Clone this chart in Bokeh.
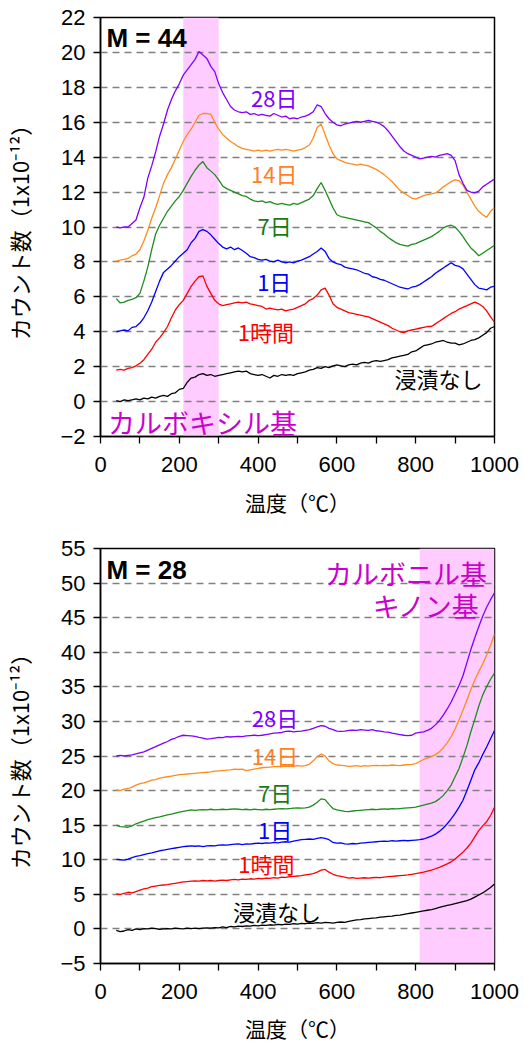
from bokeh.plotting import figure
from bokeh.models import Label, BoxAnnotation, FixedTicker, Range1d
from bokeh.layouts import column
from bokeh.embed import file_html
from bokeh.resources import INLINE

# temperature sampling points (°C)
TEMP = list(range(40, 1001, 10))

# ---------------- M = 44 (top panel) ----------------
M44_NONE = [0.05, 0.0, 0.1, 0.05, 0.1, 0.15, 0.1, 0.2, 0.15, 0.25,
            0.2, 0.3, 0.35, 0.3, 0.45, 0.5, 0.7, 0.75, 1.1, 1.35,
            1.4, 1.55, 1.6, 1.5, 1.55, 1.45, 1.5, 1.55, 1.6, 1.65,
            1.7, 1.75, 1.7, 1.75, 1.6, 1.55, 1.5, 1.55, 1.45, 1.35,
            1.5, 1.45, 1.55, 1.5, 1.55, 1.5, 1.6, 1.65, 1.7, 1.8,
            1.85, 1.95, 1.9, 2.0, 1.95, 2.05, 2.1, 2.05, 2.0, 2.1,
            2.15, 2.1, 2.2, 2.25, 2.2, 2.3, 2.35, 2.3, 2.35, 2.4,
            2.5, 2.55, 2.6, 2.65, 2.7, 2.85, 2.9, 3.05, 3.2, 3.25,
            3.3, 3.4, 3.45, 3.5, 3.4, 3.35, 3.35, 3.25, 3.3, 3.4,
            3.5, 3.55, 3.65, 3.8, 3.95, 4.2, 4.3]
M44_1H = [1.8, 1.85, 1.8, 1.9, 1.95, 2.05, 2.2, 2.4, 2.7, 3.0,
          3.4, 3.65, 3.95, 4.3, 4.8, 5.25, 5.55, 5.8, 6.2, 6.6,
          6.9, 7.15, 7.2, 6.6, 6.2, 5.8, 5.6, 5.5, 5.55, 5.6,
          5.65, 5.7, 5.65, 5.7, 5.6, 5.55, 5.5, 5.45, 5.3, 5.35,
          5.3, 5.25, 5.3, 5.2, 5.25, 5.3, 5.4, 5.5, 5.6, 5.8,
          5.9, 6.1, 6.4, 6.5, 6.1, 5.6, 5.4, 5.3, 5.2, 5.1,
          5.05, 5.0, 4.95, 4.9, 4.85, 4.75, 4.65, 4.55, 4.45, 4.35,
          4.2, 4.1, 4.0, 3.95, 4.05, 4.1, 4.15, 4.2, 4.25, 4.3,
          4.3, 4.45, 4.6, 4.75, 4.9, 5.05, 5.15, 5.3, 5.4, 5.5,
          5.6, 5.7, 5.6, 5.45, 5.2, 4.85, 4.55]
M44_1D = [4.0, 4.05, 4.1, 4.05, 4.25, 4.3, 4.5, 4.8, 5.2, 5.7,
          6.3, 6.9, 7.4, 7.6, 7.8, 8.05, 8.3, 8.5, 8.7, 9.1,
          9.35, 9.75, 9.85, 9.75, 9.55, 9.3, 9.05, 8.85, 8.75, 8.85,
          8.7, 8.8, 8.65, 8.5, 8.3, 8.25, 8.15, 8.1, 8.15, 8.05,
          8.0, 8.1, 8.0, 7.95, 8.0, 7.95, 8.05, 8.1, 8.2, 8.3,
          8.45, 8.6, 8.8, 8.6, 8.2, 8.0, 7.9, 7.85, 7.7, 7.65,
          7.6, 7.55, 7.45, 7.35, 7.3, 7.15, 7.1, 7.0, 6.95, 6.85,
          6.75, 6.65, 6.55, 6.5, 6.45, 6.55, 6.6, 6.7, 6.85, 7.0,
          7.15, 7.35, 7.5, 7.65, 7.8, 7.95, 7.8, 7.75, 7.6, 7.3,
          7.0, 6.7, 6.5, 6.45, 6.4, 6.55, 6.6]
M44_7D = [5.9, 5.65, 5.7, 5.8, 5.85, 5.95, 6.2, 6.9, 7.7, 8.7,
          9.6, 10.1, 10.5, 10.9, 11.2, 11.5, 11.75, 12.1, 12.5, 12.9,
          13.25, 13.55, 13.75, 13.4, 13.2, 13.0, 12.7, 12.35, 12.2, 12.1,
          12.0, 11.9, 11.8, 11.75, 11.6, 11.5, 11.45, 11.5, 11.4, 11.45,
          11.35, 11.3, 11.35, 11.3, 11.25, 11.35, 11.3, 11.4, 11.5, 11.6,
          11.8, 12.2, 12.55, 12.1, 11.6, 11.1, 10.7, 10.6, 10.55, 10.5,
          10.45, 10.4, 10.35, 10.3, 10.25, 10.1, 9.95, 9.75, 9.6, 9.4,
          9.25, 9.1, 9.0, 8.95, 8.9, 9.0, 9.05, 9.15, 9.25, 9.35,
          9.45, 9.6, 9.75, 9.95, 10.05, 10.1, 10.0, 9.75, 9.45, 9.1,
          8.8, 8.6, 8.35, 8.5, 8.65, 8.8, 8.95]
M44_14D = [8.05, 8.1, 8.15, 8.2, 8.35, 8.45, 8.7, 9.2, 9.8, 10.5,
           11.1, 11.8, 12.5, 13.0, 13.4, 13.9, 14.4, 14.9, 15.3, 15.6,
           16.0, 16.4, 16.5, 16.5, 16.45, 16.0, 15.6, 15.3, 15.1, 14.9,
           14.75, 14.6, 14.5, 14.45, 14.4, 14.35, 14.4, 14.35, 14.4, 14.35,
           14.4, 14.45, 14.4, 14.45, 14.4, 14.35, 14.4, 14.45, 14.55, 14.7,
           15.1, 15.7, 15.9, 15.3, 14.7, 14.2, 13.9, 13.8, 13.7, 13.65,
           13.6, 13.55, 13.6, 13.55, 13.5, 13.4, 13.3, 13.15, 13.0, 12.8,
           12.6, 12.35, 12.1, 11.95, 11.8, 11.65, 11.6, 11.7, 11.8, 11.85,
           11.9, 11.95, 12.1, 12.3, 12.45, 12.6, 12.7, 12.65, 12.4, 12.0,
           11.6, 11.2, 10.9, 10.7, 10.55, 10.9, 11.1]
M44_28D = [10.0, 9.95, 10.0, 10.0, 10.2, 10.4, 11.1, 11.7, 12.8, 13.5,
           14.3, 15.2, 15.9, 16.7, 17.3, 17.8, 18.2, 18.7, 19.0, 19.3,
           19.6, 20.05, 19.85, 19.65, 19.2, 18.9, 18.2, 17.7, 17.3, 16.9,
           16.7, 16.6, 16.55, 16.6, 16.45, 16.5, 16.4, 16.45, 16.4, 16.35,
           16.5, 16.4, 16.3, 16.35, 16.2, 16.25, 16.2, 16.3, 16.35, 16.45,
           16.6, 17.0, 16.9, 16.5, 16.2, 16.0, 15.85, 15.8, 15.9, 15.95,
           16.0, 16.05, 16.0, 16.05, 16.1, 16.05, 16.0, 15.9, 15.75, 15.5,
           15.2, 14.9, 14.6, 14.35, 14.2, 14.1, 14.0, 13.9, 13.95, 14.0,
           14.05, 14.0, 14.1, 14.15, 14.2, 14.1, 13.8, 13.0, 12.5, 12.1,
           12.0, 11.95, 12.05, 12.3, 12.45, 12.6, 12.75]

# ---------------- M = 28 (bottom panel) ----------------
M28_NONE = [-0.2, -0.4, -0.3, -0.1, -0.2, 0.0, -0.1, 0.05, 0.0, 0.1,
            0.05, -0.05, 0.0, 0.05, 0.0, 0.1, 0.05, 0.0, 0.1, 0.05,
            0.1, 0.05, 0.1, 0.15, 0.1, 0.2, 0.15, 0.3, 0.2, 0.35,
            0.3, 0.4, 0.35, 0.45, 0.4, 0.5, 0.45, 0.55, 0.5, 0.6,
            0.55, 0.65, 0.6, 0.7, 0.65, 0.75, 0.7, 0.8, 0.75, 0.85,
            0.8, 0.9, 0.85, 0.95, 0.9, 0.85, 0.95, 1.0, 0.95, 1.1,
            1.2, 1.3, 1.35, 1.45, 1.5, 1.55, 1.6, 1.7, 1.75, 1.8,
            1.85, 1.95, 2.0, 2.1, 2.2, 2.3, 2.4, 2.5, 2.6, 2.7,
            2.8, 2.95, 3.1, 3.25, 3.4, 3.5, 3.65, 3.8, 3.95, 4.1,
            4.3, 4.6, 4.9, 5.2, 5.6, 6.0, 6.5]
M28_1H = [5.05, 5.0, 5.15, 5.3, 5.2, 5.4, 5.6, 5.8, 5.9, 6.1,
          6.2, 6.3, 6.35, 6.4, 6.5, 6.6, 6.7, 6.8, 6.85, 6.9,
          6.95, 6.9, 7.0, 6.95, 7.0, 6.9, 7.0, 7.05, 7.0, 7.1,
          7.15, 7.1, 7.2, 7.15, 7.25, 7.2, 7.3, 7.25, 7.35, 7.3,
          7.4, 7.35, 7.5, 7.45, 7.55, 7.6, 7.65, 7.7, 7.8, 7.9,
          8.0, 8.2, 8.5, 8.6, 8.2, 7.9, 7.7, 7.6, 7.5, 7.35,
          7.4, 7.3, 7.35, 7.4, 7.35, 7.4, 7.45, 7.4, 7.5, 7.55,
          7.6, 7.65, 7.7, 7.75, 7.8, 7.9, 8.0, 8.1, 8.2, 8.35,
          8.5, 8.7, 8.9, 9.15, 9.4, 9.7, 10.1, 10.6, 11.1, 11.7,
          12.4, 13.3, 14.2, 14.9, 15.5, 16.4, 17.6]
M28_1D = [10.05, 10.0, 9.95, 10.1, 10.3, 10.5, 10.6, 10.75, 10.9, 11.0,
          11.15, 11.3, 11.4, 11.5, 11.6, 11.7, 11.8, 11.9, 11.95, 12.0,
          11.95, 12.0, 11.9, 12.0, 12.05, 12.0, 12.1, 12.15, 12.1, 12.2,
          12.25, 12.3, 12.2, 12.3, 12.25, 12.35, 12.4, 12.35, 12.45, 12.4,
          12.5, 12.45, 12.55, 12.6, 12.55, 12.7, 12.8, 12.9, 12.95, 13.0,
          12.95, 13.1, 13.2, 13.1, 12.9, 12.5, 12.4, 12.45, 12.3, 12.25,
          12.35, 12.3, 12.4, 12.45, 12.5, 12.55, 12.6, 12.65, 12.7, 12.65,
          12.75, 12.7, 12.75, 12.8, 12.75, 12.8, 12.85, 12.9, 13.0, 13.2,
          13.4, 13.7, 14.1, 14.6, 15.2, 15.9, 16.7, 17.6, 18.6, 20.0,
          21.5, 23.0, 24.0, 25.2, 26.3, 27.5, 28.7]
M28_7D = [15.0, 14.8, 14.75, 14.7, 14.9, 15.2, 15.4, 15.6, 15.8, 15.95,
          16.1, 16.2, 16.35, 16.5, 16.6, 16.75, 16.9, 17.0, 17.1, 17.2,
          17.15, 17.2, 17.25, 17.2, 17.3, 17.2, 17.25, 17.3, 17.25, 17.3,
          17.35, 17.3, 17.25, 17.3, 17.2, 17.3, 17.25, 17.2, 17.3, 17.25,
          17.3, 17.35, 17.4, 17.35, 17.4, 17.45, 17.5, 17.45, 17.5, 17.6,
          17.9, 18.3, 18.8, 18.7, 18.0, 17.4, 17.2, 17.1, 17.0, 16.95,
          17.05, 17.1, 17.15, 17.2, 17.25, 17.3, 17.25, 17.3, 17.35, 17.3,
          17.4, 17.35, 17.4, 17.45, 17.5, 17.55, 17.6, 17.75, 17.9, 18.05,
          18.2, 18.4, 18.8, 19.3, 20.0, 20.8, 22.0, 23.2, 24.8, 26.5,
          28.5, 30.3, 32.2, 33.8, 35.0, 36.1, 37.0]
M28_14D = [20.1, 20.0, 20.2, 20.3, 20.5, 20.8, 21.0, 21.1, 21.3, 21.5,
           21.6, 21.8, 21.9, 22.0, 22.1, 22.2, 22.3, 22.35, 22.4, 22.45,
           22.5, 22.55, 22.6, 22.65, 22.7, 22.8, 22.85, 22.9, 22.95, 23.0,
           23.1, 23.05, 23.1, 22.9, 23.0, 23.1, 23.2, 23.3, 23.35, 23.4,
           23.45, 23.5, 23.45, 23.5, 23.55, 23.5, 23.6, 23.55, 23.6, 23.8,
           24.3, 24.9, 25.3, 25.0, 24.3, 23.9, 23.7, 23.65, 23.6, 23.5,
           23.55, 23.6, 23.5, 23.6, 23.55, 23.6, 23.65, 23.6, 23.65, 23.6,
           23.7, 23.65, 23.6, 23.7, 23.75, 23.8, 23.9, 24.2, 24.5, 24.7,
           24.9, 25.2, 25.6, 26.2, 26.9, 27.8, 28.9, 30.2, 31.6, 33.1,
           34.6, 36.0, 37.2, 38.3, 39.6, 41.0, 42.6]
M28_28D = [25.0, 25.1, 25.0, 25.1, 25.15, 25.3, 25.45, 25.6, 25.85, 26.1,
           26.35, 26.6, 26.85, 27.1, 27.4, 27.6, 27.85, 28.0, 27.95, 27.9,
           27.85, 27.7, 27.6, 27.45, 27.5, 27.6, 27.7, 27.65, 27.8, 27.75,
           27.8, 27.85, 27.8, 27.9, 27.95, 28.0, 27.95, 28.0, 28.1, 28.2,
           28.3, 28.35, 28.4, 28.55, 28.6, 28.5, 28.55, 28.6, 28.7, 28.8,
           29.0, 29.2, 29.4, 29.3, 29.0, 28.8, 28.6, 28.55, 28.6, 28.7,
           28.75, 28.7, 28.8, 28.75, 28.7, 28.8, 28.65, 28.6, 28.5, 28.45,
           28.3, 28.2, 28.1, 28.0, 27.95, 28.0, 28.3, 28.4, 28.5, 28.7,
           29.0, 29.5, 30.1, 30.9, 31.8, 32.8, 34.0, 35.2, 36.6, 38.5,
           40.4, 42.1, 43.7, 45.2, 46.5, 47.6, 48.6]

SERIES_NAMES = ["浸漬なし", "1時間", "1日", "7日", "14日", "28日"]
LINE_COLORS = ["#000000", "#FF0000", "#0000FF", "#1E8C1E", "#FF8C1A", "#8000FF"]
LABEL_COLORS = ["#000000", "#FF0000", "#0000FF", "#1A7A1A", "#FF7F27", "#8000FF"]

TOP_SERIES = [M44_NONE, M44_1H, M44_1D, M44_7D, M44_14D, M44_28D]
BOT_SERIES = [M28_NONE, M28_1H, M28_1D, M28_7D, M28_14D, M28_28D]

# label anchor points (temperature, value)
TOP_LABEL_POS = [(858, 1.35), (420, 4.05), (441, 6.88), (442, 10.1), (441, 13.12), (441, 17.42)]
BOT_LABEL_POS = [(448, 2.6), (421, 9.6), (443, 14.5), (443, 19.8), (443, 25.2), (443, 30.7)]

X_TICKS = [0, 200, 400, 600, 800, 1000]
X_MINOR = [100, 300, 500, 700, 900]
TOP_Y_TICKS = [-2, 0, 2, 4, 6, 8, 10, 12, 14, 16, 18, 20, 22]
TOP_GRID = [0, 2, 4, 6, 8, 10, 12, 14, 16, 18, 20]
BOT_Y_TICKS = [-5, 0, 5, 10, 15, 20, 25, 30, 35, 40, 45, 50, 55]
BOT_GRID = [0, 5, 10, 15, 20, 25, 30, 35, 40, 45, 50]

JP = "Noto Sans CJK JP"
NUM = "Liberation Sans"
MAGENTA = "#CC00CC"


def make_fig(series, label_pos, yticks, grid, band, height, top, bottom,
             tick_standoff, label_standoff):
    p = figure(width=522, height=height,
               x_range=Range1d(0, 1000), y_range=Range1d(yticks[0], yticks[-1]),
               output_backend="svg", toolbar_location=None,
               min_border_left=97, min_border_right=28,
               min_border_top=top, min_border_bottom=bottom)
    p.background_fill_color = "white"
    p.border_fill_color = "white"
    p.outline_line_color = "black"
    p.outline_line_width = 1.5
    p.outline_line_alpha = 1.0

    p.add_layout(BoxAnnotation(left=band[0], right=band[1], fill_color="#FFCCFF",
                               fill_alpha=1.0, line_alpha=0, level="image"))

    p.xgrid.visible = False
    p.ygrid.ticker = FixedTicker(ticks=grid)
    p.ygrid.grid_line_color = "#808080"
    p.ygrid.grid_line_dash = "7 5"
    p.ygrid.grid_line_width = 1.3

    xa = p.xaxis[0]
    xa.ticker = FixedTicker(ticks=X_TICKS, minor_ticks=X_MINOR)
    xa.axis_label = "温度（℃）"
    ya = p.yaxis[0]
    ya.ticker = FixedTicker(ticks=yticks)
    ya.major_label_overrides = {yticks[0]: "\u2212" + str(abs(yticks[0]))}
    ya.axis_label = "カウント数（1x10⁻¹²）"
    for ax in (xa, ya):
        ax.axis_line_color = "black"
        ax.axis_line_width = 1.5
        ax.major_tick_line_color = "black"
        ax.minor_tick_line_color = "black"
        ax.major_tick_line_width = 1.3
        ax.minor_tick_line_width = 1.3
        ax.major_tick_in = 0
        ax.major_tick_out = 7
        ax.minor_tick_in = 0
        ax.minor_tick_out = 7
        ax.major_label_text_font = NUM
        ax.major_label_text_font_size = "22px"
        ax.major_label_text_color = "black"
        ax.axis_label_text_font = JP
        ax.axis_label_text_font_size = "21px"
        ax.axis_label_text_font_style = "normal"
        ax.axis_label_text_color = "black"
    ya.minor_tick_out = 0
    ya.axis_label_text_font_size = "22px"
    xa.major_label_standoff = tick_standoff
    xa.axis_label_standoff = label_standoff
    ya.major_label_standoff = 8
    ya.axis_label_standoff = 22

    for vals, col in zip(series, LINE_COLORS):
        p.line(TEMP, vals, line_color=col, line_width=1.3)

    for name, col, (lx, ly) in zip(SERIES_NAMES, LABEL_COLORS, label_pos):
        p.add_layout(Label(x=lx, y=ly, text=name, text_color=col, text_font=JP,
                           text_font_size="22px", text_align="center",
                           text_baseline="middle"))
    return p


p1 = make_fig(TOP_SERIES, TOP_LABEL_POS, TOP_Y_TICKS, TOP_GRID, (210, 300),
              height=524, top=17, bottom=88, tick_standoff=13, label_standoff=12)
p1.add_layout(Label(x=15, y=20.8, text="M = 44", text_color="black", text_font=NUM,
                    text_font_size="26px", text_font_style="bold",
                    text_align="left", text_baseline="middle"))
p1.add_layout(Label(x=259, y=-1.18, text="カルボキシル基", text_color=MAGENTA,
                    text_font=JP, text_font_size="27px", text_align="center",
                    text_baseline="middle"))

p2 = make_fig(BOT_SERIES, BOT_LABEL_POS, BOT_Y_TICKS, BOT_GRID, (810, 1000),
              height=521, top=24, bottom=78, tick_standoff=13, label_standoff=11)
p2.add_layout(Label(x=15, y=51.85, text="M = 28", text_color="black", text_font=NUM,
                    text_font_size="26px", text_font_style="bold",
                    text_align="left", text_baseline="middle"))
p2.add_layout(Label(x=981, y=51.4, text="カルボニル基", text_color=MAGENTA,
                    text_font=JP, text_font_size="27px", text_align="right",
                    text_baseline="middle"))
p2.add_layout(Label(x=965, y=46.7, text="キノン基", text_color=MAGENTA,
                    text_font=JP, text_font_size="27px", text_align="right",
                    text_baseline="middle"))

layout = column(p1, p2)
open("out.html", "w").write(file_html(layout, INLINE))
